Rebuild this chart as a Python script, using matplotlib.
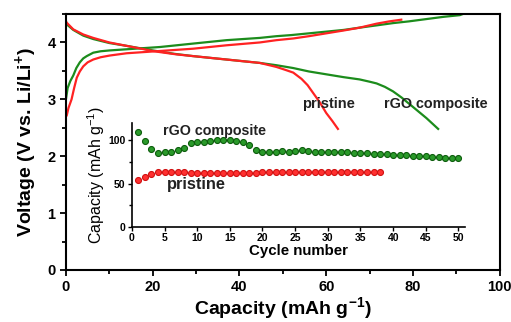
import matplotlib
matplotlib.use("Agg")
import matplotlib.pyplot as plt
from matplotlib.ticker import MultipleLocator

plt.rcParams['font.family'] = ['Liberation Sans', 'DejaVu Sans']
plt.rcParams['mathtext.fontset'] = 'custom'
plt.rcParams['mathtext.rm'] = 'Liberation Sans'
plt.rcParams['mathtext.bf'] = 'Liberation Sans:bold'

GREEN = '#1c8c1c'
RED = '#ff2222'

# Main panel: charge / discharge profiles (capacity mAh/g, voltage V)
green_charge_x = [0, 0.4, 1.0, 1.7, 2.4, 3.2, 4.0, 4.8, 6.3, 8, 10.1, 14, 21.7, 29.3, 37, 44.7,
                  48.5, 52, 56, 60, 64, 67.7, 71.6, 75.4, 79, 83, 87, 90.8, 91.5]
green_charge_v = [3.0, 3.2, 3.32, 3.42, 3.55, 3.65, 3.72, 3.76, 3.82, 3.845, 3.86, 3.88, 3.92, 3.98,
                  4.04, 4.08, 4.11, 4.13, 4.16, 4.19, 4.22, 4.26, 4.30, 4.34, 4.37, 4.41, 4.45, 4.48, 4.5]
red_charge_x = [0.2, 0.6, 1.3, 1.9, 2.5, 3.2, 4.0, 5.0, 6.3, 8, 10.1, 14, 21.7, 29.3, 37, 44.7,
                48.5, 52.4, 56, 60, 64, 67.7, 71.6, 74.5, 77.3]
red_charge_v = [2.72, 2.85, 3.0, 3.2, 3.38, 3.49, 3.58, 3.65, 3.70, 3.74, 3.77, 3.81, 3.85, 3.89,
                3.95, 4.0, 4.04, 4.07, 4.11, 4.16, 4.21, 4.26, 4.33, 4.37, 4.4]
green_dis_x = [0, 0.15, 1.7, 4, 6.3, 10, 14, 20, 25, 29.3, 37, 44.7, 48.5, 52.4, 56, 60, 64, 67.7,
               70, 71.6, 73.5, 75.4, 77.4, 79.3, 81.2, 83.1, 85.8]
green_dis_v = [4.36, 4.32, 4.22, 4.12, 4.06, 3.99, 3.94, 3.86, 3.80, 3.76, 3.70, 3.64, 3.60, 3.55,
               3.49, 3.44, 3.39, 3.35, 3.31, 3.28, 3.22, 3.14, 3.03, 2.91, 2.79, 2.67, 2.48]
red_dis_x = [0, 0.15, 1.7, 4, 6.3, 10, 14, 20, 21.7, 25.5, 29.3, 37, 44.7, 48.5, 50.5, 52.4, 54.3,
             55.7, 57, 58.5, 60, 61.4, 62.7]
red_dis_v = [4.38, 4.35, 4.23, 4.14, 4.08, 4.0, 3.94, 3.85, 3.83, 3.79, 3.76, 3.70, 3.64, 3.57,
             3.52, 3.47, 3.36, 3.25, 3.11, 2.95, 2.76, 2.62, 2.48]

# Inset: cycling capacity
rgo_cycles = list(range(1, 51))
rgo_capacity = [110, 99, 90, 85, 86, 86, 89, 91, 97, 98, 98, 99, 100, 100, 100, 99, 98, 95, 89, 87,
                87, 87, 88, 87, 88, 89, 88, 87, 87, 87, 86, 86, 86, 85, 85, 85, 84, 84, 84, 83,
                83, 83, 82, 82, 82, 81, 81, 80, 80, 80]
pristine_cycles = list(range(1, 39))
pristine_capacity = [54, 58, 61.5, 63.5, 63.5, 63.5, 63, 63, 62.5, 62.5, 62.5, 62.5, 62.5, 62.5, 62.5,
                     62.5, 62.5, 62.5, 62.5, 63, 63, 63, 63, 63.5, 63.5, 63.5, 63.5, 63.5, 63.5, 63.5,
                     63.5, 63.5, 63.5, 63.5, 63.5, 63.5, 63.5, 63.5]

fig = plt.figure(figsize=(5.11, 3.22), dpi=100)
ax = fig.add_axes([0.129, 0.1615, 0.849, 0.795])

ax.plot(green_charge_x, green_charge_v, color=GREEN, lw=1.6, solid_joinstyle='round')
ax.plot(green_dis_x, green_dis_v, color=GREEN, lw=1.6, solid_joinstyle='round')
ax.plot(red_charge_x, red_charge_v, color=RED, lw=1.6, solid_joinstyle='round')
ax.plot(red_dis_x, red_dis_v, color=RED, lw=1.6, solid_joinstyle='round')

ax.set_xlim(0, 100)
ax.set_ylim(0, 4.5)
ax.xaxis.set_major_locator(MultipleLocator(20))
ax.xaxis.set_minor_locator(MultipleLocator(10))
ax.yaxis.set_major_locator(MultipleLocator(1))
ax.yaxis.set_minor_locator(MultipleLocator(0.5))
ax.tick_params(which='both', direction='out', width=1.3)
ax.tick_params(which='major', length=4, labelsize=10.5)
ax.tick_params(which='minor', length=3)
for lab in ax.get_xticklabels() + ax.get_yticklabels():
    lab.set_fontweight('bold')
for s in ax.spines.values():
    s.set_linewidth(1.5)
ax.set_xlabel('Capacity (mAh g$^{\\mathbf{-1}}$)', fontsize=14, fontweight='bold', labelpad=1)
ax.set_ylabel('Voltage (V vs. Li/Li$^{\\mathbf{+}}$)', fontsize=14, fontweight='bold', labelpad=5)

ax.text(60.5, 2.91, 'pristine', fontsize=10.5, fontweight='bold', ha='center', va='center', color='#222222')
ax.text(85.3, 2.91, 'rGO composite', fontsize=10.4, fontweight='bold', ha='center', va='center', color='#222222')

# Inset
ins = fig.add_axes([0.258, 0.295, 0.652, 0.323])
ins.patch.set_alpha(0)
ins.plot(rgo_cycles, rgo_capacity, 'o', color='#2a9a2a', mec='#0c5c0c', ms=4.3, mew=0.8)
ins.plot(pristine_cycles, pristine_capacity, 'o', color='#ff3030', mec='#d01010', ms=4.3, mew=0.8)
ins.set_xlim(0, 51)
ins.set_ylim(0, 120)
ins.spines['top'].set_visible(False)
ins.spines['right'].set_visible(False)
for s in ('left', 'bottom'):
    ins.spines[s].set_linewidth(1.2)
ins.xaxis.set_major_locator(MultipleLocator(5))
ins.yaxis.set_major_locator(MultipleLocator(50))
ins.yaxis.set_minor_locator(MultipleLocator(25))
ins.tick_params(which='both', direction='out', width=1.0, labelsize=7.5, pad=1.5)
ins.tick_params(which='major', length=3)
ins.tick_params(which='minor', length=2.5)
for lab in ins.get_xticklabels() + ins.get_yticklabels():
    lab.set_fontweight('bold')
ins.set_xlabel('Cycle number', fontsize=10.8, fontweight='bold', labelpad=0.5)
ins.set_ylabel('Capacity (mAh g$^{-1}$)', fontsize=11.5, labelpad=1)
ins.text(4.8, 110.7, 'rGO composite', fontsize=10.3, fontweight='bold', ha='left', va='center', color='#222222')
ins.text(5.3, 49.4, 'pristine', fontsize=11.8, fontweight='bold', ha='left', va='center', color='#222222')

fig.savefig('out.png', dpi=100)
